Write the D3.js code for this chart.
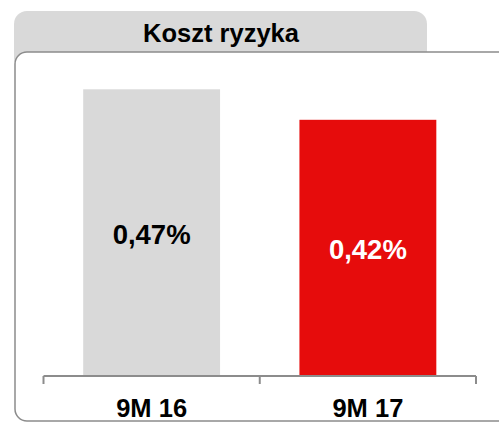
<!DOCTYPE html>
<html lang="pl">
<head>
<meta charset="utf-8">
<title>Koszt ryzyka</title>
<script src="https://cdn.jsdelivr.net/npm/d3@7"></script>
<style>
  body { margin: 0; background: #fff; }
  text { font-family: "Liberation Sans", Arial, sans-serif; font-weight: bold; }
</style>
</head>
<body>
<div id="chart"></div>
<script>
const title = "Koszt ryzyka";
const periods = ["9M 16", "9M 17"];
const values = [0.47, 0.42];
const labels = ["0,47%", "0,42%"];
const barColors = ["#d9d9d9", "#e60c0c"];
const labelColors = ["#000", "#fff"];

const w = 499, h = 423;

const svg = d3.select("#chart").append("svg")
  .attr("width", w)
  .attr("height", h);

// tab with the title
svg.append("rect")
  .attr("x", 14).attr("y", 11)
  .attr("width", 413).attr("height", 60)
  .attr("rx", 13)
  .attr("fill", "#d9d9d9");

svg.append("text")
  .attr("x", 221).attr("y", 42)
  .attr("text-anchor", "middle")
  .attr("font-size", 25.5)
  .attr("fill", "#000")
  .text(title);

// white panel
svg.append("rect")
  .attr("x", 15).attr("y", 52)
  .attr("width", 540).attr("height", 369)
  .attr("rx", 12)
  .attr("fill", "#fff")
  .attr("stroke", "#8c8c8c")
  .attr("stroke-width", 1.5);

const x = d3.scaleBand()
  .domain(periods)
  .range([43.5, 476])
  .paddingInner(0.367)
  .paddingOuter(0.1835);

const xAxisScale = d3.scaleBand()
  .domain(periods)
  .range([43.5, 476]);

const y = d3.scaleLinear()
  .domain([0, 0.5])
  .range([376, 71]);

const data = periods.map((p, i) => ({ p, v: values[i], label: labels[i], color: barColors[i], tc: labelColors[i] }));

svg.selectAll("rect.bar")
  .data(data)
  .enter()
  .append("rect")
    .attr("class", "bar")
    .attr("x", d => x(d.p))
    .attr("y", d => y(d.v))
    .attr("width", x.bandwidth())
    .attr("height", d => y(0) - y(d.v))
    .attr("fill", d => d.color);

svg.selectAll("text.val")
  .data(data)
  .enter()
  .append("text")
    .attr("class", "val")
    .attr("x", d => x(d.p) + x.bandwidth() / 2)
    .attr("y", d => (y(d.v) + y(0)) / 2 + 11.5)
    .attr("text-anchor", "middle")
    .attr("font-size", 27.5)
    .attr("fill", d => d.tc)
    .text(d => d.label);

// axis
const axis = svg.append("g")
  .attr("transform", `translate(0,${y(0)})`)
  .call(d3.axisBottom(xAxisScale).tickSize(0).tickPadding(23));

axis.select(".domain").remove();
axis.selectAll("text")
  .attr("font-size", 25.5)
  .attr("font-family", "Liberation Sans, Arial, sans-serif")
  .attr("font-weight", "bold")
  .attr("fill", "#000");

axis.append("line")
  .attr("x1", xAxisScale.range()[0]).attr("x2", xAxisScale.range()[1])
  .attr("stroke", "#8c8c8c").attr("stroke-width", 2);

const edges = periods.map(p => xAxisScale(p)).concat([xAxisScale.range()[1]]);
axis.selectAll("line.edge")
  .data(edges)
  .enter()
  .append("line")
    .attr("class", "edge")
    .attr("x1", d => d).attr("x2", d => d)
    .attr("y1", 0).attr("y2", 8)
    .attr("stroke", "#8c8c8c").attr("stroke-width", 2);
</script>
</body>
</html>
